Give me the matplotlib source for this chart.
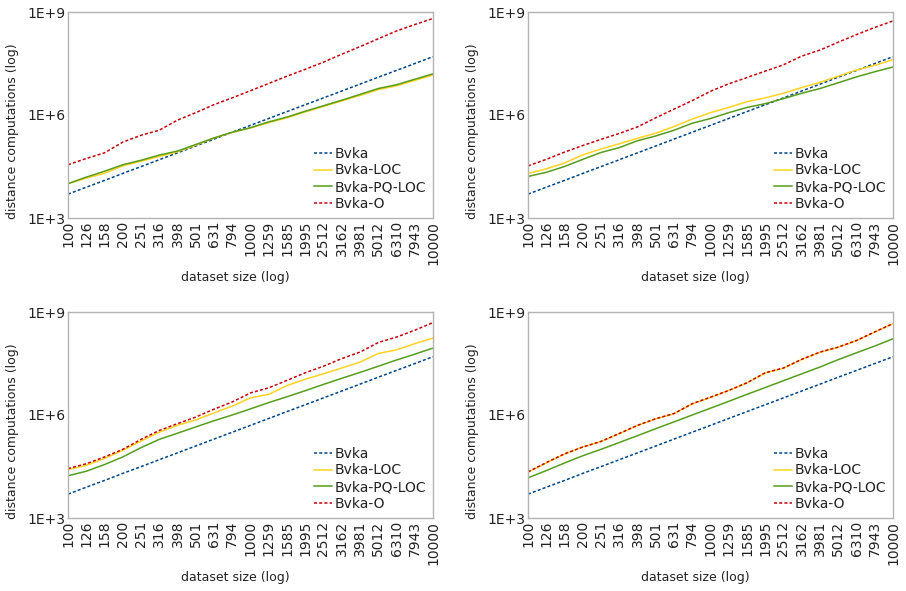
import matplotlib
matplotlib.use('Agg')
import matplotlib.pyplot as plt

# dataset sizes (x categories, log spaced)
sizes = ['100', '126', '158', '200', '251', '316', '398', '501', '631', '794', '1000',
         '1259', '1585', '1995', '2512', '3162', '3981', '5012', '6310', '7943', '10000']

# Bvka is the same in every panel
bvka = [4.95e3, 7.88e3, 1.24e4, 1.99e4, 3.14e4, 4.98e4, 7.90e4, 1.25e5, 1.99e5, 3.15e5, 5.0e5,
        7.92e5, 1.26e6, 1.99e6, 3.15e6, 5.0e6, 7.92e6, 1.26e7, 1.99e7, 3.15e7, 5.0e7]

# top left
tl_loc = [1.0e4, 1.45e4, 2.0e4, 3.3e4, 4.5e4, 6.2e4, 8.5e4, 1.32e5, 2.14e5, 3.1e5, 4.2e5,
          6.0e5, 8.3e5, 1.23e6, 1.78e6, 2.57e6, 3.7e6, 5.5e6, 7.1e6, 1.02e7, 1.45e7]
tl_pq = [1.0e4, 1.55e4, 2.3e4, 3.55e4, 4.8e4, 6.8e4, 8.9e4, 1.38e5, 2.14e5, 3.16e5, 4.27e5,
         6.3e5, 8.7e5, 1.29e6, 1.86e6, 2.69e6, 3.98e6, 5.9e6, 7.6e6, 1.1e7, 1.58e7]
tl_o = [3.55e4, 5.4e4, 7.9e4, 1.62e5, 2.57e5, 3.6e5, 7.1e5, 1.17e6, 2.0e6, 3.16e6, 5.1e6,
        8.3e6, 1.35e7, 2.14e7, 3.47e7, 5.9e7, 9.8e7, 1.66e8, 2.8e8, 4.3e8, 6.5e8]

# top right
tr_loc = [2.0e4, 2.7e4, 4.0e4, 6.9e4, 1.02e5, 1.45e5, 2.1e5, 2.95e5, 4.6e5, 7.6e5, 1.17e6,
          1.66e6, 2.45e6, 3.16e6, 4.3e6, 6.3e6, 8.9e6, 1.35e7, 2.04e7, 2.8e7, 4.1e7]
tr_pq = [1.62e4, 2.14e4, 3.16e4, 5.1e4, 8.1e4, 1.12e5, 1.78e5, 2.45e5, 3.6e5, 5.75e5, 7.9e5,
         1.17e6, 1.66e6, 2.14e6, 3.0e6, 4.3e6, 5.9e6, 8.7e6, 1.29e7, 1.82e7, 2.5e7]
tr_o = [3.3e4, 5.1e4, 8.3e4, 1.29e5, 1.95e5, 2.9e5, 4.5e5, 8.3e5, 1.48e6, 2.63e6, 4.9e6,
        8.1e6, 1.23e7, 1.9e7, 2.9e7, 5.2e7, 7.8e7, 1.32e8, 2.2e8, 3.55e8, 5.5e8]

# bottom left
bl_loc = [2.57e4, 3.4e4, 5.4e4, 9.3e4, 1.74e5, 3.16e5, 5.0e5, 7.2e5, 1.15e6, 1.82e6, 3.16e6,
          4.0e6, 7.2e6, 1.1e7, 1.58e7, 2.34e7, 3.47e7, 6.2e7, 7.9e7, 1.2e8, 1.74e8]
bl_pq = [1.7e4, 2.3e4, 3.6e4, 6.0e4, 1.12e5, 1.95e5, 2.95e5, 4.5e5, 6.8e5, 1.0e6, 1.51e6,
         2.3e6, 3.4e6, 5.1e6, 7.8e6, 1.17e7, 1.74e7, 2.63e7, 4.0e7, 5.9e7, 8.9e7]
bl_o = [2.75e4, 3.8e4, 6.0e4, 1.0e5, 1.95e5, 3.55e5, 5.6e5, 8.7e5, 1.48e6, 2.4e6, 4.4e6,
        6.2e6, 1.02e7, 1.7e7, 2.63e7, 4.4e7, 6.8e7, 1.29e8, 1.86e8, 2.95e8, 4.9e8]

# bottom right
br_loc = [2.15e4, 4.0e4, 7.3e4, 1.16e5, 1.68e5, 2.85e5, 4.95e5, 7.7e5, 1.09e6, 2.1e6, 3.25e6,
          5.15e6, 8.6e6, 1.68e7, 2.3e7, 4.15e7, 6.7e7, 9.4e7, 1.46e8, 2.6e8, 4.55e8]
br_pq = [1.48e4, 2.4e4, 4.0e4, 6.5e4, 1.0e5, 1.58e5, 2.5e5, 4.0e5, 6.3e5, 1.0e6, 1.58e6,
         2.5e6, 4.0e6, 6.3e6, 1.0e7, 1.58e7, 2.5e7, 4.1e7, 6.5e7, 1.02e8, 1.66e8]
br_o = [2.2e4, 4.1e4, 7.4e4, 1.17e5, 1.7e5, 2.9e5, 5.0e5, 7.8e5, 1.1e6, 2.14e6, 3.3e6,
        5.2e6, 8.7e6, 1.7e7, 2.34e7, 4.2e7, 6.8e7, 9.5e7, 1.48e8, 2.63e8, 4.6e8]

panels = [
    ([68, 12], tl_loc, tl_pq, tl_o),
    ([528, 12], tr_loc, tr_pq, tr_o),
    ([68, 312], bl_loc, bl_pq, bl_o),
    ([528, 312], br_loc, br_pq, br_o),
]

W, H = 906, 591
textColor = '#222222'
plt.rcParams['font.family'] = 'DejaVu Sans'
plt.rcParams['font.size'] = 10

fig = plt.figure(figsize=(W / 100, H / 100), dpi=100)
xs = list(range(len(sizes)))

for (pos, loc, pq, o) in panels:
    left, top = pos
    ax = fig.add_axes([left / W, (H - top - 206) / H, 365 / W, 206 / H])
    ax.plot(xs, bvka, color='#004586', lw=1.1, dashes=(2, 1.4), label='Bvka')
    ax.plot(xs, loc, color='#ffd320', lw=1.1, label='Bvka-LOC')
    ax.plot(xs, pq, color='#579d1c', lw=1.1, label='Bvka-PQ-LOC')
    ax.plot(xs, o, color='#c5000b', lw=1.1, dashes=(2, 1.4), label='Bvka-O')
    ax.set_yscale('log')
    ax.set_ylim(1e3, 1e9)
    ax.set_xlim(0, len(sizes) - 1)
    ax.set_yticks([1e3, 1e6, 1e9])
    ax.set_yticklabels(['1E+3', '1E+6', '1E+9'])
    ax.minorticks_off()
    ax.set_xticks(xs)
    ax.set_xticklabels(sizes, rotation=90)
    ax.tick_params(length=0, pad=2, colors=textColor, labelsize=10)
    for sp in ax.spines.values():
        sp.set_color('#b3b3b3')
        sp.set_linewidth(1)
    ax.set_xlabel('dataset size (log)', color=textColor, fontsize=9)
    ax.set_ylabel('distance computations (log)', color=textColor, fontsize=9)
    # labels sit a bit off-centre in the original
    ax.xaxis.set_label_coords(0.4575, -0.255)
    ax.yaxis.set_label_coords(-0.135, 0.42)
    leg = ax.legend(loc='lower right', frameon=False, fontsize=10, handlelength=1.3,
                    handletextpad=0.2, labelspacing=0.2, borderaxespad=0.3,
                    borderpad=0.2)
    for t in leg.get_texts():
        t.set_color(textColor)

fig.savefig('out.png', dpi=100)
